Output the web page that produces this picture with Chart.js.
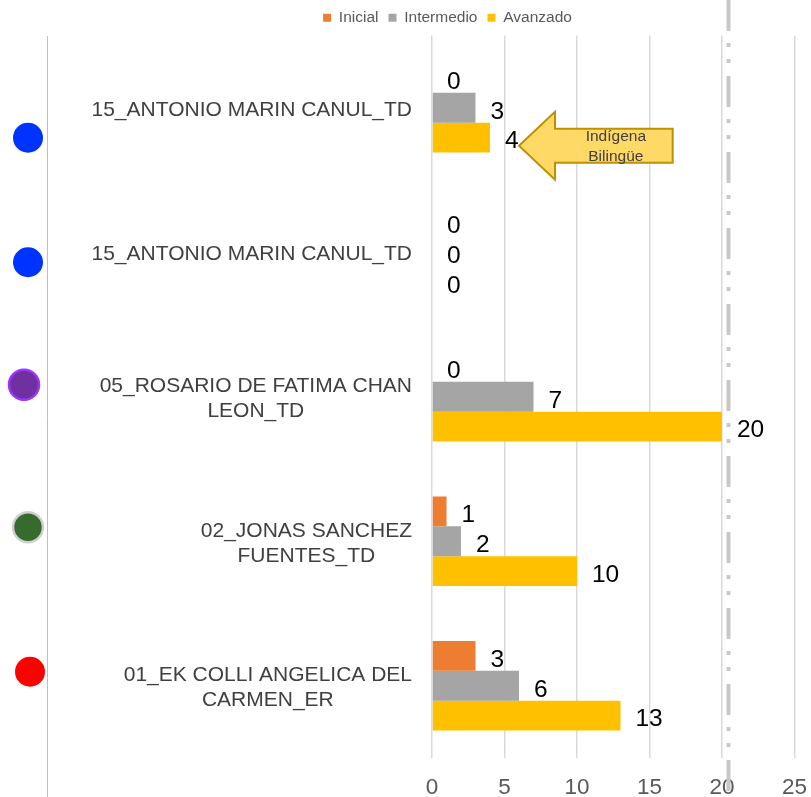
<!DOCTYPE html>
<html>
<head>
<meta charset="utf-8">
<script src="https://cdn.jsdelivr.net/npm/chart.js@4.4.1/dist/chart.umd.min.js"></script>
<style>
  html, body { margin: 0; padding: 0; background: #fff; }
  #wrap { width: 811px; height: 797px; position: relative; }
</style>
</head>
<body>
<div id="wrap"><canvas id="chart" width="811" height="797"></canvas></div>
<script>
// data
const categories = [
  ["15_ANTONIO MARIN CANUL_TD"],
  ["15_ANTONIO MARIN CANUL_TD"],
  ["05_ROSARIO DE FATIMA CHAN", "LEON_TD"],
  ["02_JONAS SANCHEZ", "FUENTES_TD"],
  ["01_EK COLLI ANGELICA DEL", "CARMEN_ER"],
];
const inicial = [0, 0, 0, 1, 3];
const intermedio = [3, 0, 7, 2, 6];
const avanzado = [4, 0, 20, 10, 13];
const xMin = 0, xMax = 25, xStep = 5;
const refLineValue = 20.45;
const calloutText = ["Indígena", "Bilingüe"];

// decoration styles
const FONT = "'Liberation Sans', Arial, sans-serif";
const markers = [
  { fill: "#0033ff", stroke: null, dy: 30, x: 28, r: 15 },
  { fill: "#0033ff", stroke: null, dy: 10, x: 28, r: 15 },
  { fill: "#7030a0", stroke: "#9b33ff", dy: -12, x: 24, r: 15 },
  { fill: "#376b2e", stroke: "#d0d0d0", dy: -14, x: 28, r: 15 },
  { fill: "#ff0000", stroke: null, dy: -14, x: 30, r: 15 },
];

const decorPlugin = {
  id: "decor",
  afterDraw(chart) {
    const { ctx, chartArea } = chart;
    const xs = chart.scales.x, ys = chart.scales.y;
    ctx.save();

    // left separator line
    ctx.strokeStyle = "#bfbfbf";
    ctx.lineWidth = 1;
    ctx.beginPath();
    ctx.moveTo(47.5, 36);
    ctx.lineTo(47.5, 797);
    ctx.stroke();

    // category labels, each block right aligned, lines centered in it
    ctx.font = "21px " + FONT;
    ctx.fillStyle = "#404040";
    ctx.textAlign = "center";
    ctx.textBaseline = "middle";
    categories.forEach((lines, i) => {
      const cy = ys.getPixelForValue(i);
      const maxW = Math.max(...lines.map((l) => ctx.measureText(l).width));
      const cx = chartArea.left - 20 - maxW / 2;
      lines.forEach((l, j) => {
        ctx.fillText(l, cx, cy + 2 + (j - (lines.length - 1) / 2) * 25);
      });
    });

    // colored markers
    markers.forEach((m, i) => {
      const cy = ys.getPixelForValue(i) + m.dy;
      ctx.beginPath();
      ctx.arc(m.x, cy, m.r, 0, Math.PI * 2);
      ctx.fillStyle = m.fill;
      ctx.fill();
      if (m.stroke) {
        ctx.lineWidth = 2.5;
        ctx.strokeStyle = m.stroke;
        ctx.stroke();
      }
    });

    // dash-dot reference line
    const rx = xs.getPixelForValue(refLineValue);
    ctx.strokeStyle = "#c8c8c8";
    ctx.lineWidth = 4;
    ctx.setLineDash([31, 12, 4, 12, 4, 13]);
    ctx.beginPath();
    ctx.moveTo(rx, 0);
    ctx.lineTo(rx, 797);
    ctx.stroke();
    ctx.setLineDash([]);

    // value labels
    ctx.font = "24.5px " + FONT;
    ctx.fillStyle = "#000";
    ctx.textAlign = "left";
    chart.data.datasets.forEach((ds, di) => {
      chart.getDatasetMeta(di).data.forEach((bar, i) => {
        ctx.fillText(String(ds.data[i]), bar.x + 15, bar.y + 4);
      });
    });

    // callout arrow
    const tipX = xs.getPixelForValue(6);
    const tipY = ys.getPixelForValue(0) + 38;
    const neckX = tipX + 36, endX = xs.getPixelForValue(16.6);
    ctx.beginPath();
    ctx.moveTo(tipX, tipY);
    ctx.lineTo(neckX, tipY - 34);
    ctx.lineTo(neckX, tipY - 17);
    ctx.lineTo(endX, tipY - 17);
    ctx.lineTo(endX, tipY + 17);
    ctx.lineTo(neckX, tipY + 17);
    ctx.lineTo(neckX, tipY + 34);
    ctx.closePath();
    ctx.fillStyle = "#ffd966";
    ctx.fill();
    ctx.lineWidth = 2;
    ctx.strokeStyle = "#bf9000";
    ctx.stroke();
    ctx.font = "15.5px " + FONT;
    ctx.fillStyle = "#404040";
    ctx.textAlign = "center";
    const tx = (neckX + endX) / 2 + 2;
    ctx.fillText(calloutText[0], tx, tipY - 9);
    ctx.fillText(calloutText[1], tx, tipY + 11);

    ctx.restore();
  },
};

new Chart(document.getElementById("chart"), {
  type: "bar",
  data: {
    labels: categories,
    datasets: [
      { label: "Inicial", data: inicial, backgroundColor: "#ed7d31" },
      { label: "Intermedio", data: intermedio, backgroundColor: "#a5a5a5" },
      { label: "Avanzado", data: avanzado, backgroundColor: "#ffc000" },
    ],
  },
  options: {
    indexAxis: "y",
    responsive: false,
    animation: false,
    layout: { padding: { left: 84, right: 0, top: 0, bottom: 0 } },
    datasets: { bar: { categoryPercentage: 0.62, barPercentage: 1 } },
    scales: {
      x: {
        min: xMin,
        max: xMax,
        ticks: { stepSize: xStep, padding: 4, color: "#595959", font: { family: FONT, size: 22.5 } },
        grid: { color: "#d9d9d9", lineWidth: 1.5, drawTicks: true, tickLength: 12, tickColor: "rgba(0,0,0,0)" },
        border: { display: false },
        afterFit: (s) => { s.height = 39; },
      },
      y: {
        ticks: { display: false },
        grid: { display: false },
        border: { display: false },
        afterFit: (s) => { s.width = 348; },
      },
    },
    plugins: {
      legend: {
        position: "top",
        labels: {
          boxWidth: 8,
          boxHeight: 8,
          padding: 10,
          color: "#595959",
          font: { family: FONT, size: 15.5 },
        },
      },
      tooltip: { enabled: false },
    },
  },
  plugins: [decorPlugin],
});
</script>
</body>
</html>
